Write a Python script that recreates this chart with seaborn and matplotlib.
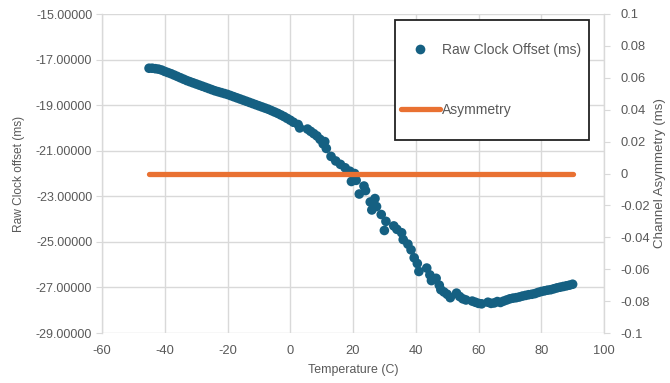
import matplotlib
matplotlib.use("Agg")
import matplotlib.pyplot as plt
import seaborn as sns
import pandas as pd
from matplotlib.lines import Line2D
from matplotlib.patches import Rectangle

temperature = [
    -45, -44, -43, -42, -41, -40, -39, -38, -37, -36, -35, -34, -33, -32, -31, -30,
    -29, -28, -27, -26, -25, -24, -23, -22, -21, -20, -19, -18, -17, -16, -15, -14,
    -13, -12, -11, -10, -9, -8, -7, -6, -5, -4, -3, -2, -1, 0,
    1, 2.5, 3, 5.5, 6.5, 7.5, 8.5, 9.5, 10.5, 11.5, 11, 13, 14.5, 16, 17.5, 19,
    20.5, 21, 19.5, 23.5, 24, 22, 25.5, 27, 27.5, 26, 29, 30.5, 30, 33, 34, 35.5,
    36, 37.5, 38.5, 39.5, 40.5, 41, 43.5, 44.5, 45, 46.5, 47.5, 48, 49, 50, 51,
    53, 54, 55, 56, 58, 59, 60, 61,
    63, 64, 65, 66, 67, 68, 69, 70, 71, 72, 73, 74, 75, 76, 77, 78, 79, 80, 81,
    82, 83, 84, 85, 86, 87, 88, 89, 90,
]
raw_offset = [
    -17.38, -17.38, -17.40, -17.42, -17.46, -17.52, -17.57, -17.62, -17.68, -17.74,
    -17.80, -17.86, -17.92, -17.97, -18.02, -18.07, -18.12, -18.17, -18.22, -18.27,
    -18.32, -18.37, -18.41, -18.45, -18.49, -18.53, -18.58, -18.63, -18.68, -18.73,
    -18.78, -18.83, -18.88, -18.93, -18.98, -19.03, -19.08, -19.13, -19.18, -19.24,
    -19.30, -19.36, -19.43, -19.50, -19.58, -19.66,
    -19.75, -19.85, -20.00, -20.05, -20.15, -20.25, -20.35, -20.50, -20.70, -20.90,
    -20.60, -21.25, -21.45, -21.60, -21.75, -21.90, -22.00, -22.30, -22.35, -22.55,
    -22.75, -22.90, -23.25, -23.10, -23.45, -23.60, -23.80, -24.10, -24.50, -24.30,
    -24.45, -24.60, -24.90, -25.10, -25.35, -25.70, -25.95, -26.30, -26.15, -26.45,
    -26.70, -26.60, -26.90, -27.10, -27.20, -27.30, -27.45, -27.25, -27.40, -27.50,
    -27.55, -27.60, -27.65, -27.70, -27.72,
    -27.65, -27.70, -27.68, -27.62, -27.66, -27.60, -27.55, -27.50, -27.47, -27.45,
    -27.42, -27.38, -27.35, -27.32, -27.30, -27.27, -27.22, -27.18, -27.15, -27.12,
    -27.10, -27.06, -27.02, -26.99, -26.96, -26.93, -26.90, -26.86,
]
asym_temperature = [-45, 90]
asymmetry = [0.0, 0.0]

x_ticks = [-60, -40, -20, 0, 20, 40, 60, 80, 100]
left_ticks = [-29, -27, -25, -23, -21, -19, -17, -15]
right_ticks = [-0.1, -0.08, -0.06, -0.04, -0.02, 0, 0.02, 0.04, 0.06, 0.08, 0.1]
right_labels = ["-0.1", "-0.08", "-0.06", "-0.04", "-0.02", "0", "0.02", "0.04", "0.06", "0.08", "0.1"]

blue = "#156082"
orange = "#E97132"
grey_text = "#595959"
grid_col = "#D9D9D9"

sns.set_style("white")
plt.rcParams["font.family"] = ["Liberation Sans", "DejaVu Sans"]

W, H = 670, 383
fig = plt.figure(figsize=(6.7, 3.83), dpi=100)
ax = fig.add_axes([102 / W, 50 / H, 502 / W, 319 / H])

df = pd.DataFrame({"Temperature": temperature, "Offset": raw_offset})
sns.scatterplot(data=df, x="Temperature", y="Offset", ax=ax, color=blue,
                s=48, edgecolor="none", linewidth=0, zorder=3, legend=False)

ax.set_xlim(-60, 100)
ax.set_ylim(-29, -15)
ax.set_xticks(x_ticks)
ax.set_yticks(left_ticks)
ax.set_xticklabels([str(v) for v in x_ticks])
ax.set_yticklabels([f"{v:.5f}" for v in left_ticks])
ax.grid(True, color=grid_col, linewidth=1.0, zorder=0)
ax.set_axisbelow(True)
for side in ["top", "right", "bottom"]:
    ax.spines[side].set_visible(False)
ax.spines["left"].set_color(grid_col)
ax.spines["left"].set_linewidth(1.0)
ax.tick_params(axis="y", length=4, color=grid_col, labelcolor=grey_text, labelsize=9, pad=3)
ax.tick_params(axis="x", length=0, labelcolor=grey_text, labelsize=9.3, pad=9)
ax.set_xlabel("Temperature (C)", color=grey_text, fontsize=8.9, labelpad=5)
ax.set_ylabel("Raw Clock offset (ms)", color=grey_text, fontsize=8.6, labelpad=8)

ax2 = ax.twinx()
adf = pd.DataFrame({"Temperature": asym_temperature, "Asymmetry": asymmetry})
sns.lineplot(data=adf, x="Temperature", y="Asymmetry", ax=ax2, color=orange,
             linewidth=3.8, zorder=4, legend=False)
ax2.set_ylim(-0.1, 0.1)
ax2.set_yticks(right_ticks)
ax2.set_yticklabels(right_labels)
for side in ["top", "left", "bottom"]:
    ax2.spines[side].set_visible(False)
ax2.spines["right"].set_color(grid_col)
ax2.spines["right"].set_linewidth(1.0)
ax2.tick_params(axis="y", length=4, color=grid_col, labelcolor=grey_text, labelsize=9.3, pad=8)
ax2.set_ylabel("Channel Asymmetry (ms)", color=grey_text, fontsize=9.6, labelpad=3)
ax2.set_xlabel("")

# legend frame
ax2.add_patch(Rectangle((395 / W, 1 - 140 / H), 194 / W, 120 / H,
                        transform=fig.transFigure, facecolor="white", clip_on=False,
                        edgecolor="#222222", linewidth=1.3, zorder=8))

handles = [
    Line2D([], [], linestyle="none", marker="o", markersize=7, color=blue, markeredgewidth=0),
    Line2D([], [], color=orange, linewidth=3.8),
]
leg = ax2.legend(handles, ["Raw Clock Offset (ms)", "Asymmetry"],
                 loc="upper left", bbox_to_anchor=(401 / W, 1 - 43 / H),
                 bbox_transform=fig.transFigure, frameon=False,
                 fontsize=10, labelcolor=grey_text, handlelength=2.8, handletextpad=0.15,
                 labelspacing=3.3, borderpad=0, borderaxespad=0)
leg.set_zorder(10)

fig.savefig("out.png", dpi=100)
